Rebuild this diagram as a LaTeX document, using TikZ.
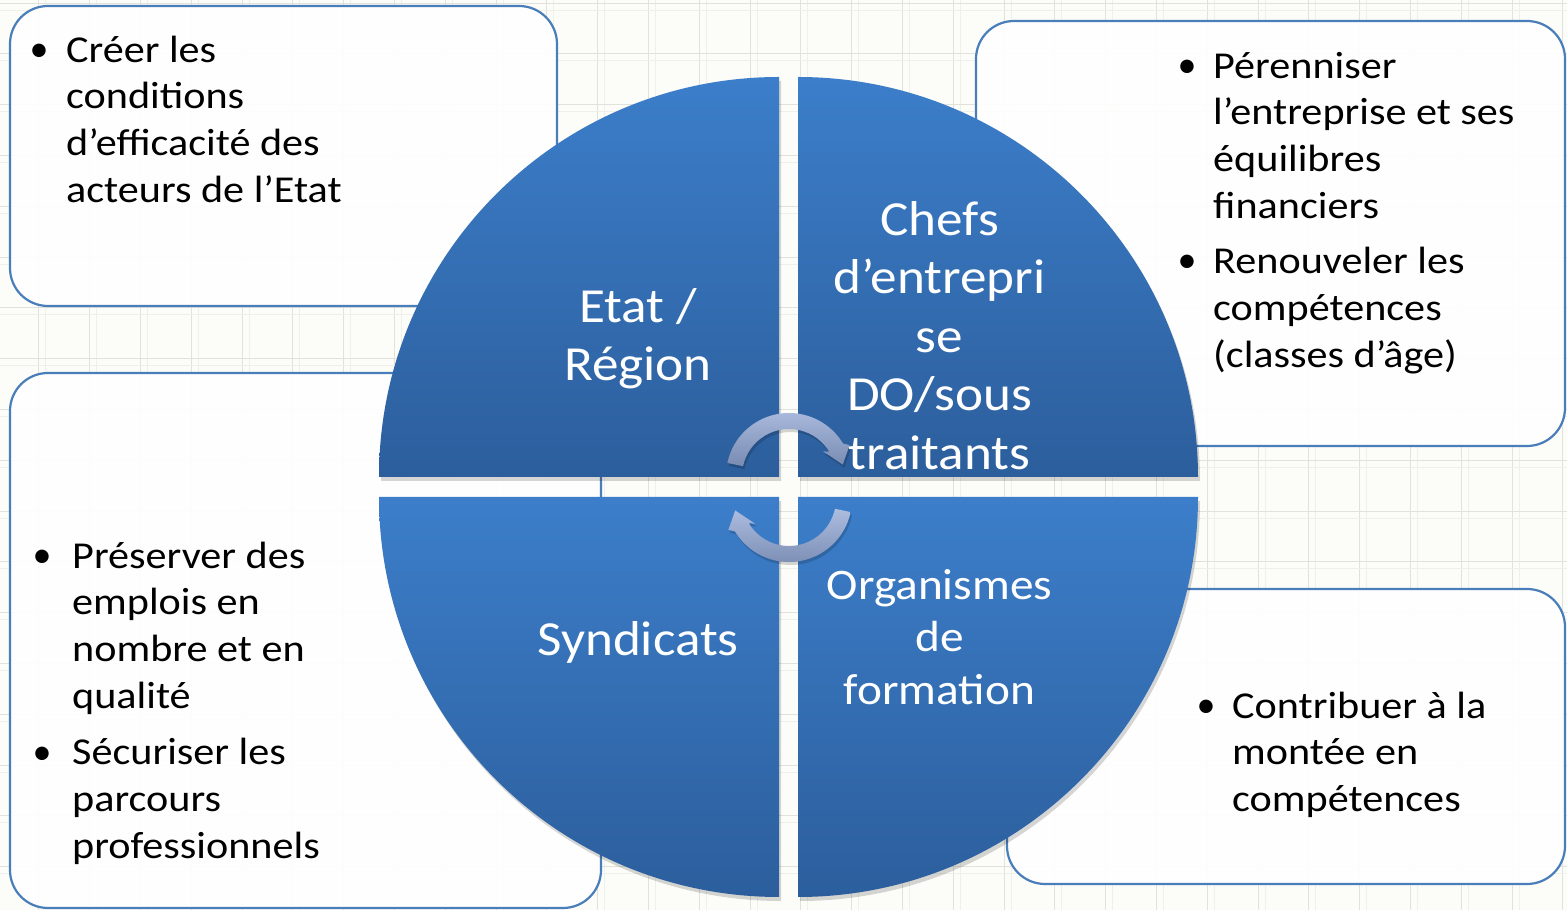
\documentclass[tikz,border=0pt]{standalone}
\usepackage{fontspec}
\setmainfont{Carlito}
\newfontfamily\boxfont[FakeStretch=1.11]{Carlito}
\newfontfamily\quadfont[FakeStretch=1.085]{Carlito}
\definecolor{bgcol}{RGB}{252,252,248}
\definecolor{gridcol}{RGB}{226,226,220}
\definecolor{gridfaintcol}{RGB}{240,240,234}
\definecolor{boxblue}{RGB}{74,126,187}
\definecolor{qtop}{RGB}{60,126,202}
\definecolor{qbot}{RGB}{44,94,156}
\definecolor{arrtop}{RGB}{172,189,224}
\definecolor{arrbot}{RGB}{122,139,178}
\tikzset{
  gridline/.style={draw=gridcol, line width=0.9pt},
  gridfaint/.style={draw=gridfaintcol, line width=0.8pt},
  infobox/.style={draw=boxblue, line width=2.2pt, fill=white, fill opacity=0.9, rounded corners=38pt},
  quad/.style={shade, top color=qtop, bottom color=qbot},
  softshadow/.style={fill=black, opacity=0.16},
  boxtext/.style={anchor=north west, inner sep=0pt, align=left, text=black, font=\boxfont\fontsize{38}{46.7}\selectfont},
  bulletmark/.style={anchor=base, inner sep=0pt, text=black, font=\fontsize{38}{46.7}\selectfont},
  quadtext/.style={anchor=north, inner sep=0pt, align=center, text=white, font=\quadfont\fontsize{49}{58.6}\selectfont},
  quadtextsmall/.style={anchor=north, inner sep=0pt, align=center, text=white, font=\quadfont\fontsize{43.6}{52.5}\selectfont},
  cyclearrow/.style={shade, top color=arrtop, bottom color=arrbot},
}
\begin{document}
\begin{tikzpicture}[x=1pt,y=1pt]
\useasboundingbox (0,0) rectangle (1567,910);
% background with grid
\fill[bgcol] (0,0) rectangle (1567,910);
\foreach \k in {1,...,31} {
  \draw[gridfaint] ({-5+50.8*\k},0) -- ({-5+50.8*\k},910);
  \draw[gridline] ({-12+50.8*\k},0) -- ({-12+50.8*\k},910);
}
\foreach \k in {0,...,17} {
  \draw[gridfaint] (0,{900-50.8*\k}) -- (1567,{900-50.8*\k});
  \draw[gridline] (0,{907-50.8*\k}) -- (1567,{907-50.8*\k});
}
% information boxes
\draw[infobox] (10,604) rectangle (557,904);
\draw[infobox] (976,464) rectangle (1565,889);
\draw[infobox] (10,2) rectangle (601,537);
\draw[infobox] (1007,26) rectangle (1565,321);
% quadrant shadows
\begin{scope}[shift={(2,-4)}]
  \fill[softshadow] (779,433) -- (379,433) arc[start angle=180,end angle=90,radius=400] -- cycle;
  \fill[softshadow] (798,433) -- (798,833) arc[start angle=90,end angle=0,radius=400] -- cycle;
  \fill[softshadow] (779,413) -- (779,13) arc[start angle=270,end angle=180,radius=400] -- cycle;
  \fill[softshadow] (798,413) -- (1198,413) arc[start angle=0,end angle=-90,radius=400] -- cycle;
\end{scope}
% quadrants
\path[quad] (779,433) -- (379,433) arc[start angle=180,end angle=90,radius=400] -- cycle;
\path[quad] (798,433) -- (798,833) arc[start angle=90,end angle=0,radius=400] -- cycle;
\path[quad] (779,413) -- (779,13) arc[start angle=270,end angle=180,radius=400] -- cycle;
\path[quad] (798,413) -- (1198,413) arc[start angle=0,end angle=-90,radius=400] -- cycle;
% cycle arrows
\begin{scope}[shift={(790.5,431)}]
  \fill[softshadow] (168:63) arc[start angle=168,end angle=31,radius=63] -- (27:68) -- (12:55) -- (36:42) -- (31:47) arc[start angle=31,end angle=168,radius=47] -- cycle;
\end{scope}
\begin{scope}[shift={(789,434)}]
  \path[cyclearrow] (168:63) arc[start angle=168,end angle=31,radius=63] -- (27:68) -- (12:55) -- (36:42) -- (31:47) arc[start angle=31,end angle=168,radius=47] -- cycle;
\end{scope}
\begin{scope}[shift={(790.5,408)}]
  \fill[softshadow] (-12:63) arc[start angle=-12,end angle=-149,radius=63] -- (-153:68) -- (-168:55) -- (-144:42) -- (-149:47) arc[start angle=-149,end angle=-12,radius=47] -- cycle;
\end{scope}
\begin{scope}[shift={(789,411)}]
  \path[cyclearrow] (-12:63) arc[start angle=-12,end angle=-149,radius=63] -- (-153:68) -- (-168:55) -- (-144:42) -- (-149:47) arc[start angle=-149,end angle=-12,radius=47] -- cycle;
\end{scope}
% quadrant labels
\node[quadtext] (etat) at (638,633) {\rule{0pt}{45pt}Etat /\\Région};
\node[quadtext] (chefs) at (939.5,720) {\rule{0pt}{45pt}Chefs\\d’entrepri\\se\\DO/sous\\traitants};
\node[quadtext] (synd) at (638,300) {\rule{0pt}{45pt}Syndicats};
\node[quadtextsmall] (orga) at (939.5,351) {\rule{0pt}{40pt}Organismes\\de\\formation};
% box texts
\node[bulletmark] (b1a) at (39,848) {•};
\node[boxtext] (t1) at (66,884) {\rule{0pt}{36pt}Créer les\\conditions\\d’efficacité des\\acteurs de l’Etat};
\node[bulletmark] (b2a) at (1187,832) {•};
\node[bulletmark] (b2b) at (1187,637) {•};
\node[boxtext] (t2) at (1213,868) {\rule{0pt}{36pt}Pérenniser\\l’entreprise et ses\\équilibres\\financiers\\[9pt]Renouveler les\\compétences\\(classes d’âge)};
\node[bulletmark] (b3a) at (42,342) {•};
\node[bulletmark] (b3b) at (42,145) {•};
\node[boxtext] (t3) at (72,378) {\rule{0pt}{36pt}Préserver des\\emplois en\\nombre et en\\qualité\\[10pt]Sécuriser les\\parcours\\professionnels};
\node[bulletmark] (b4a) at (1206,192) {•};
\node[boxtext] (t4) at (1232,228) {\rule{0pt}{36pt}Contribuer à la\\montée en\\compétences};
\end{tikzpicture}
\end{document}
